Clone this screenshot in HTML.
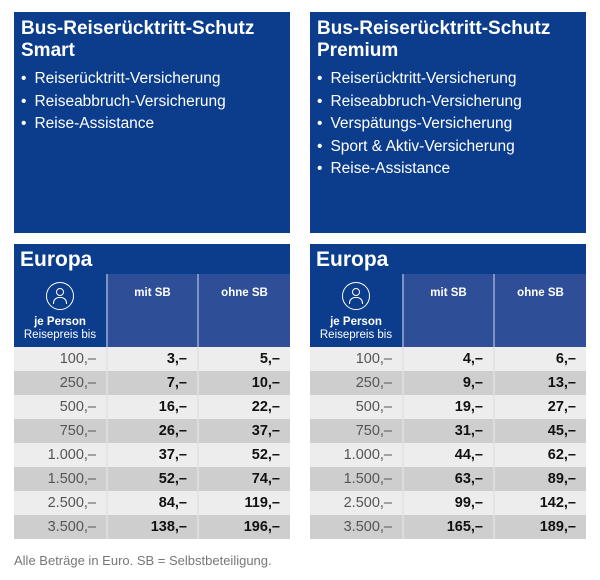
<!DOCTYPE html>
<html><head><meta charset="utf-8"><style>
body{margin:0;width:600px;height:580px;background:#fff;font-family:"Liberation Sans",sans-serif;position:relative;overflow:hidden}
.box{position:absolute;top:12px;width:276px;height:221px;background:#0b3d8c;color:#fff}
.box h2{margin:0;padding:6px 0 0 7px;font-size:19px;line-height:22px;font-weight:bold}
.box ul{margin:6px 0 0 0;padding:0 0 0 7px;list-style:none;font-size:15.5px;line-height:22.5px}
.box li:before{content:"•";margin-right:8px}
.tb{position:absolute;top:244px;width:276px}
.eu{height:30px;background:#0b3d8c;color:#fff;font-weight:bold;font-size:21px;line-height:32px;padding-left:6px}
.hd{display:flex;height:73px}
.hd div{color:#fff;font-size:11.5px;font-weight:bold;text-align:center}
.c1{width:92px;background:#0b3d8c}
.c2,.c3{background:#2e4f97;border-left:2px solid #7d93c4;padding-top:13px;box-sizing:border-box}
.c2{width:91px}.c3{width:93px}
.row{display:flex;height:24px;font-size:14.5px;line-height:24px}
.row div{text-align:right;padding-right:10px;box-sizing:border-box}
.row .a{width:92px;color:#555}
.row .b{width:91px;font-weight:bold;color:#111;border-left:2px solid #e4e4e4}
.row .c{width:93px;font-weight:bold;color:#111;border-left:2px solid #e4e4e4}
.l{background:#ededed}.d{background:#cfcece}
.d .b,.d .c{border-left-color:#dcdcdc}
.ic{width:26px;height:26px;border:1.5px solid #fff;border-radius:50%;margin:8px auto 6px;position:relative}
.ic:before{content:"";position:absolute;left:9px;top:5px;width:6px;height:6px;border:1.3px solid #fff;border-radius:50%}
.ic:after{content:"";position:absolute;left:6px;top:14px;width:12px;height:6px;border:1.3px solid #fff;border-bottom:none;border-radius:6px 6px 0 0}
.foot{position:absolute;left:14px;top:553px;font-size:13px;color:#777}
</style></head><body>
<div class="box" style="left:14px"><h2>Bus-Reiserücktritt-Schutz<br>Smart</h2><ul><li>Reiserücktritt-Versicherung</li><li>Reiseabbruch-Versicherung</li><li>Reise-Assistance</li></ul></div>
<div class="box" style="left:310px"><h2>Bus-Reiserücktritt-Schutz<br>Premium</h2><ul><li>Reiserücktritt-Versicherung</li><li>Reiseabbruch-Versicherung</li><li>Verspätungs-Versicherung</li><li>Sport &amp; Aktiv-Versicherung</li><li>Reise-Assistance</li></ul></div>

<div class="tb" style="left:14px">
<div class="eu">Europa</div>
<div class="hd"><div class="c1"><div class="ic"></div><div style="line-height:13px">je Person<br><span style="font-weight:normal">Reisepreis bis</span></div></div><div class="c2">mit SB</div><div class="c3">ohne SB</div></div>
<div class="row l"><div class="a">100,–</div><div class="b">3,–</div><div class="c">5,–</div></div>
<div class="row d"><div class="a">250,–</div><div class="b">7,–</div><div class="c">10,–</div></div>
<div class="row l"><div class="a">500,–</div><div class="b">16,–</div><div class="c">22,–</div></div>
<div class="row d"><div class="a">750,–</div><div class="b">26,–</div><div class="c">37,–</div></div>
<div class="row l"><div class="a">1.000,–</div><div class="b">37,–</div><div class="c">52,–</div></div>
<div class="row d"><div class="a">1.500,–</div><div class="b">52,–</div><div class="c">74,–</div></div>
<div class="row l"><div class="a">2.500,–</div><div class="b">84,–</div><div class="c">119,–</div></div>
<div class="row d"><div class="a">3.500,–</div><div class="b">138,–</div><div class="c">196,–</div></div>
</div>

<div class="tb" style="left:310px">
<div class="eu">Europa</div>
<div class="hd"><div class="c1"><div class="ic"></div><div style="line-height:13px">je Person<br><span style="font-weight:normal">Reisepreis bis</span></div></div><div class="c2">mit SB</div><div class="c3">ohne SB</div></div>
<div class="row l"><div class="a">100,–</div><div class="b">4,–</div><div class="c">6,–</div></div>
<div class="row d"><div class="a">250,–</div><div class="b">9,–</div><div class="c">13,–</div></div>
<div class="row l"><div class="a">500,–</div><div class="b">19,–</div><div class="c">27,–</div></div>
<div class="row d"><div class="a">750,–</div><div class="b">31,–</div><div class="c">45,–</div></div>
<div class="row l"><div class="a">1.000,–</div><div class="b">44,–</div><div class="c">62,–</div></div>
<div class="row d"><div class="a">1.500,–</div><div class="b">63,–</div><div class="c">89,–</div></div>
<div class="row l"><div class="a">2.500,–</div><div class="b">99,–</div><div class="c">142,–</div></div>
<div class="row d"><div class="a">3.500,–</div><div class="b">165,–</div><div class="c">189,–</div></div>
</div>

<div class="foot">Alle Beträge in Euro. SB = Selbstbeteiligung.</div>
</body></html>
